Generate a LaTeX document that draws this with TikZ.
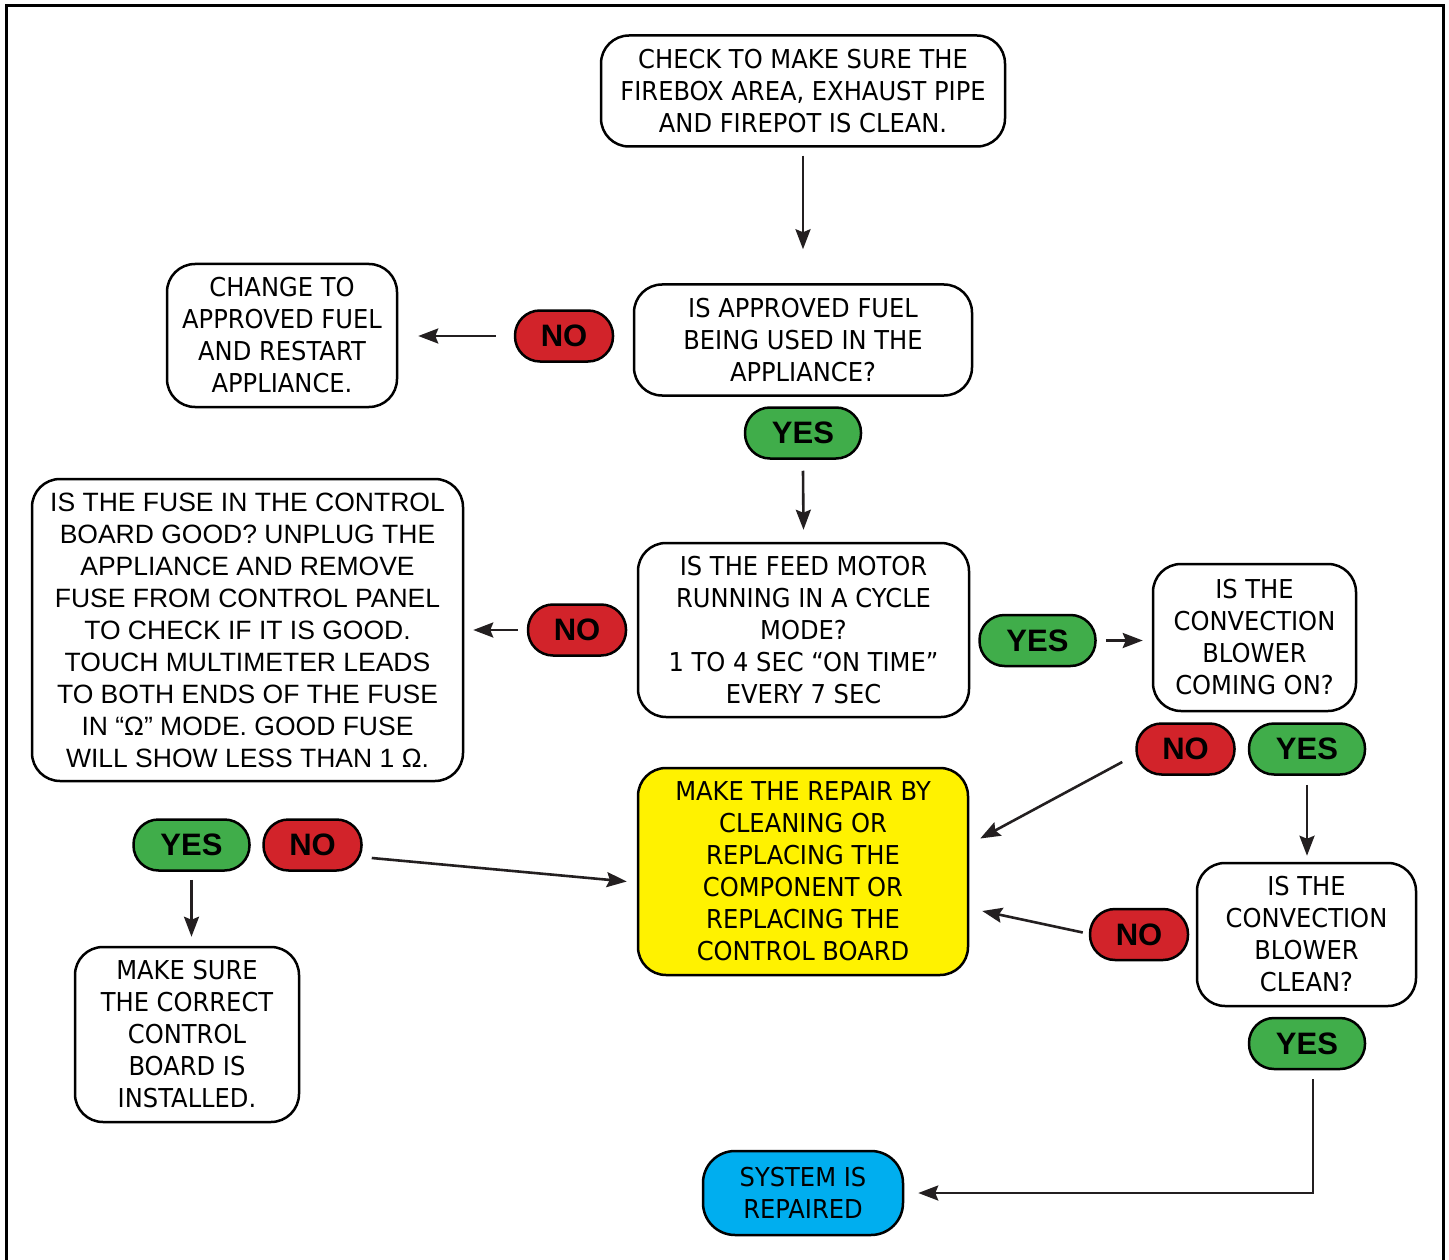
\documentclass[tikz,border=0pt]{standalone}
\usepackage{fontspec}
\setmainfont{DejaVu Sans}[FakeStretch=0.93]
\newfontfamily\arialfont{Liberation Sans}
\usetikzlibrary{arrows.meta,calc}
\definecolor{nred}{HTML}{D2232A}
\definecolor{ygreen}{HTML}{40AD4A}
\definecolor{ryellow}{HTML}{FFF200}
\definecolor{sblue}{HTML}{00AEEF}
\definecolor{arrowc}{HTML}{231F20}
\begin{document}
\begin{tikzpicture}[x=1pt,y=-1pt,
  box/.style={draw, line width=2.5pt, rounded corners=28pt, fill=white, align=center,
    font=\fontsize{26}{32}\selectfont, inner sep=0pt},
  pill/.style={draw, line width=2.5pt, rounded corners=25pt, minimum height=51pt,
    font=\arialfont\bfseries\fontsize{31}{31}\selectfont, inner sep=0pt},
  yes/.style={pill, fill=ygreen, minimum width=116pt},
  no/.style={pill, fill=nred, minimum width=98pt},
  arr/.style={draw=arrowc, line width=2.6pt, -{Stealth[length=20pt,width=15pt,inset=3pt]}}]
\useasboundingbox (0,0) rectangle (1449,1260);
\fill[white] (0,0) rectangle (1449,1260);
\draw[line width=3pt] (6,1300) -- (6,6) -- (1443,6) -- (1443,1300);

\node[box, minimum width=404pt, minimum height=111pt] (top) at (803,91)
  {CHECK TO MAKE SURE THE\\FIREBOX AREA, EXHAUST PIPE\\AND FIREPOT IS CLEAN.};
\node[box, minimum width=338pt, minimum height=111pt] (fuel) at (803,340)
  {IS APPROVED FUEL\\BEING USED IN THE\\APPLIANCE?};
\node[box, minimum width=230pt, minimum height=143pt] (change) at (282,335.5)
  {CHANGE TO\\APPROVED FUEL\\AND RESTART\\APPLIANCE.};
\node[box, minimum width=431pt, minimum height=302pt, font=\arialfont\fontsize{26.5}{32}\selectfont] (fuse) at (247.5,630)
  {IS THE FUSE IN THE CONTROL\\BOARD GOOD? UNPLUG THE\\APPLIANCE AND REMOVE\\FUSE FROM CONTROL PANEL\\TO CHECK IF IT IS GOOD.\\TOUCH MULTIMETER LEADS\\TO BOTH ENDS OF THE FUSE\\IN “Ω” MODE. GOOD FUSE\\WILL SHOW LESS THAN 1 Ω.};
\node[box, minimum width=331pt, minimum height=174pt] (feed) at (803.5,630)
  {IS THE FEED MOTOR\\RUNNING IN A CYCLE\\MODE?\\1 TO 4 SEC “ON TIME”\\EVERY 7 SEC};
\node[box, minimum width=203pt, minimum height=147pt] (convon) at (1254.5,637.5)
  {IS THE\\CONVECTION\\BLOWER\\COMING ON?};
\node[box, fill=ryellow, minimum width=330pt, minimum height=207pt] (repair) at (803,871.5)
  {MAKE THE REPAIR BY\\CLEANING OR\\REPLACING THE\\COMPONENT OR\\REPLACING THE\\CONTROL BOARD};
\node[box, minimum width=219pt, minimum height=143pt] (convclean) at (1306.5,934.5)
  {IS THE\\CONVECTION\\BLOWER\\CLEAN?};
\node[box, minimum width=224pt, minimum height=175pt] (makesure) at (187,1034.5)
  {MAKE SURE\\THE CORRECT\\CONTROL\\BOARD IS\\INSTALLED.};
\node[box, fill=sblue, rounded corners=32pt, minimum width=200pt, minimum height=84pt] (system) at (803,1193)
  {SYSTEM IS\\REPAIRED};

\node[no] (no1) at (564,336) {NO};
\node[yes] (yes1) at (803,433) {YES};
\node[no] (no2) at (577,630) {NO};
\node[yes] (yes2) at (1037.5,640.5) {YES};
\node[no] (no3) at (1185.5,749) {NO};
\node[yes] (yes3) at (1307,749) {YES};
\node[yes] (yes4) at (191.5,845) {YES};
\node[no] (no4) at (312.5,845) {NO};
\node[no] (no5) at (1139,934.5) {NO};
\node[yes] (yes5) at (1307,1043.5) {YES};

\draw[arr] ($(top.south)+(0,8)$) -- ($(fuel.north)+(0,-34)$);
\draw[arr] ($(no1.west)+(-18,0)$) -- ($(change.east |- no1.west)+(20,0)$);
\draw[arr] ($(yes1.south)+(0,11)$) -- ($(feed.north)+(0,-12)$);
\draw[arr] ($(no2.west)+(-9,0)$) -- ($(fuse.east |- no2.west)+(9,0)$);
\draw[arr] ($(yes2.east)+(9,0)$) -- ($(convon.west |- yes2.east)+(-9,0)$);
\draw[arr] ($(no3.west)+(-13,13)$) -- ($(repair.east)+(11,-33)$);
\draw[arr] ($(yes3.south)+(0,9)$) -- ($(convclean.north -| yes3.south)+(0,-6)$);
\draw[arr] ($(no4.east)+(9,13)$) -- ($(repair.west)+(-10,10)$);
\draw[arr] ($(no5.west)+(-6,-2)$) -- ($(repair.east)+(13,39.5)$);
\draw[arr] ($(yes4.south)+(0,8)$) -- ($(makesure.north -| yes4.south)+(0,-9)$);
\draw[arr] ($(yes5.south)+(6,9)$) |- ($(system.east)+(14,0)$);
\end{tikzpicture}
\end{document}
